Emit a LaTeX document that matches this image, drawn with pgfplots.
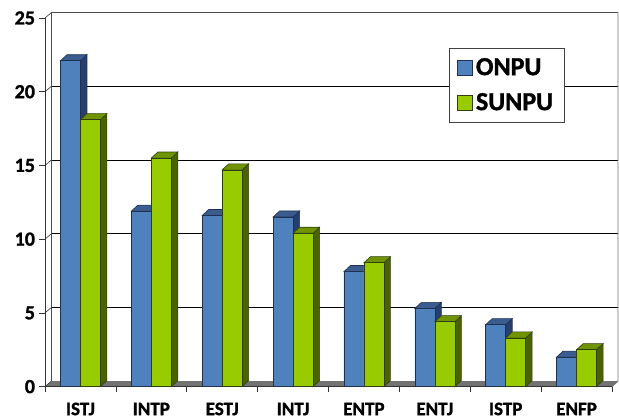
\documentclass[border=0pt]{standalone}
\usepackage{fontspec}
\setmainfont{Carlito}[BoldFeatures={FakeBold=1.3}]
\usepackage{pgfplots}
\pgfplotsset{compat=1.18}
\definecolor{bluef}{HTML}{4F81BD}
\definecolor{blues}{HTML}{263F6E}
\definecolor{bluet}{HTML}{3A5C8E}
\definecolor{greenf}{HTML}{99CC00}
\definecolor{greens}{HTML}{4B6200}
\definecolor{greent}{HTML}{6F9400}
\definecolor{edgeb}{HTML}{1F3050}
\definecolor{edgeg}{HTML}{2F3F10}
% side and top faces of one bar: left x, value, side colour, top colour, edge colour
\newcommand{\barfaces}[5]{%
  \pgfmathsetmacro{\xl}{#1}%
  \pgfmathsetmacro{\xr}{#1+0.282}%
  \pgfmathsetmacro{\xld}{\xl+0.092}%
  \pgfmathsetmacro{\xrd}{\xr+0.092}%
  \pgfmathsetmacro{\yt}{#2+0.41}%
  \addplot[fill=#3,draw=#5,line width=0.6pt,forget plot] coordinates {(\xr,0) (\xrd,0.41) (\xrd,\yt) (\xr,#2)} --cycle;
  \addplot[fill=#4,draw=#5,line width=0.6pt,forget plot] coordinates {(\xl,#2) (\xld,\yt) (\xrd,\yt) (\xr,#2)} --cycle;
}
\begin{document}
\begin{tikzpicture}
\useasboundingbox (-45pt,-32.4pt) rectangle (574pt,386.6pt);
% floor and back wall
\fill[gray!90!black] (0,0) -- (6.5pt,5.5pt) -- (573pt,5.5pt) -- (567pt,0) -- cycle;
\foreach \v in {1,2,3,4}{
  \draw[black,line width=0.7pt] (6.5pt,{5.5pt+\v*73.72pt}) -- (573pt,{5.5pt+\v*73.72pt});
}
\foreach \v in {0,1,2,3,4,5}{
  \draw[black!80,line width=0.6pt] (0,{\v*73.72pt}) -- (6.5pt,{5.5pt+\v*73.72pt});
}
\draw[black!70,line width=0.8pt] (6.5pt,5.5pt) -- (6.5pt,374.1pt) -- (573pt,374.1pt);
\draw[black!55,line width=0.9pt] (573pt,374.1pt) -- (573pt,5.5pt) -- (567pt,0);
\begin{axis}[
  at={(0,0)},anchor=south west,
  scale only axis,width=567pt,height=368.6pt,
  xmin=0,xmax=8,ymin=0,ymax=25,
  axis x line=bottom,axis y line=left,
  axis line style={-,black!80,line width=0.7pt},
  tick align=outside,tick style={black!80,line width=0.7pt},
  major tick length=5.5pt,
  xtick={0,1,...,8},xticklabels={},
  extra x ticks={0.5,1.5,2.5,3.5,4.5,5.5,6.5,7.5},
  extra x tick labels={ISTJ,INTP,ESTJ,INTJ,ENTP,ENTJ,ISTP,ENFP},
  extra x tick style={major tick length=0pt,
    xticklabel style={font=\fontsize{19}{19}\selectfont\bfseries,yshift=-13pt,text height=12pt}},
  ytick={0,5,...,25},
  yticklabel style={font=\fontsize{20}{20}\selectfont\bfseries,xshift=-1pt},
  /pgf/number format/assume math mode=true,
  clip=false,
  legend style={at={(404pt,263.6pt)},anchor=south west,
    draw=black!75,line width=0.7pt,fill=white,
    font=\fontsize{26}{26}\selectfont\bfseries,
    inner xsep=8pt,inner ysep=11.5pt,row sep=19pt,
    nodes={inner xsep=3pt,inner ysep=0pt,text height=15pt,text depth=1pt},
    cells={anchor=west}},
  legend cell align=left,
  legend image code/.code={\draw[#1,line width=0.6pt] (1pt,-7.5pt) rectangle (16pt,7.5pt);},
]
% ONPU
\barfaces{0.218}{22.1}{blues}{bluet}{edgeb}
\barfaces{1.218}{11.9}{blues}{bluet}{edgeb}
\barfaces{2.218}{11.6}{blues}{bluet}{edgeb}
\barfaces{3.218}{11.5}{blues}{bluet}{edgeb}
\barfaces{4.218}{7.8}{blues}{bluet}{edgeb}
\barfaces{5.218}{5.3}{blues}{bluet}{edgeb}
\barfaces{6.218}{4.2}{blues}{bluet}{edgeb}
\barfaces{7.218}{2.0}{blues}{bluet}{edgeb}
\addplot[ybar,bar width=20pt,bar shift=-10pt,fill=bluef,draw=edgeb,line width=0.6pt]
  coordinates {(0.5,22.1) (1.5,11.9) (2.5,11.6) (3.5,11.5) (4.5,7.8) (5.5,5.3) (6.5,4.2) (7.5,2.0)};
\addlegendentry{ONPU}
% SUNPU
\barfaces{0.5}{18.1}{greens}{greent}{edgeg}
\barfaces{1.5}{15.5}{greens}{greent}{edgeg}
\barfaces{2.5}{14.7}{greens}{greent}{edgeg}
\barfaces{3.5}{10.4}{greens}{greent}{edgeg}
\barfaces{4.5}{8.4}{greens}{greent}{edgeg}
\barfaces{5.5}{4.4}{greens}{greent}{edgeg}
\barfaces{6.5}{3.3}{greens}{greent}{edgeg}
\barfaces{7.5}{2.5}{greens}{greent}{edgeg}
\addplot[ybar,bar width=20pt,bar shift=10pt,fill=greenf,draw=edgeg,line width=0.6pt]
  coordinates {(0.5,18.1) (1.5,15.5) (2.5,14.7) (3.5,10.4) (4.5,8.4) (5.5,4.4) (6.5,3.3) (7.5,2.5)};
\addlegendentry{SUNPU}
\end{axis}
\end{tikzpicture}
\end{document}
